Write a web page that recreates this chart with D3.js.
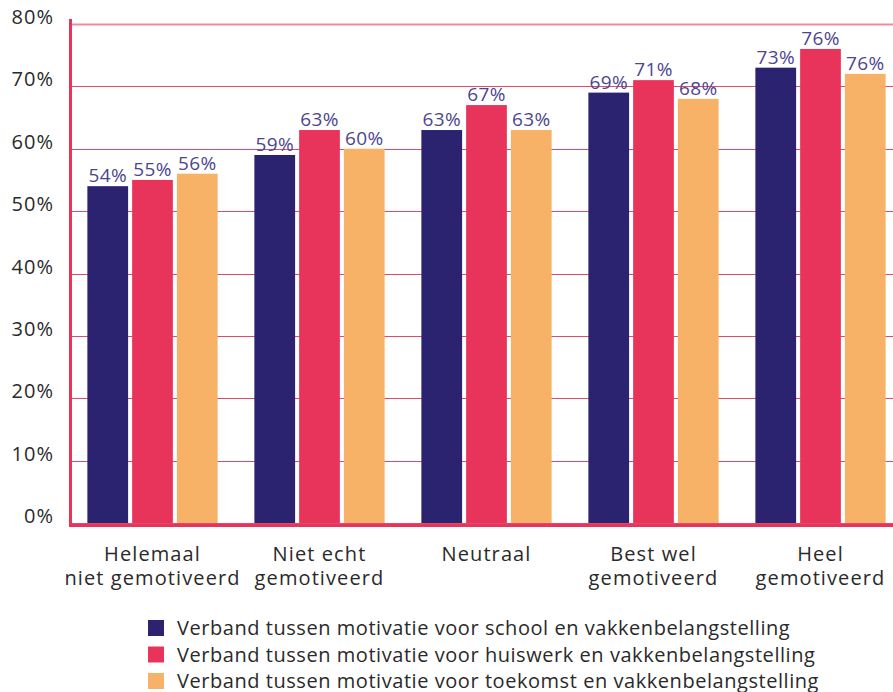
<!DOCTYPE html>
<html>
<head>
<meta charset="utf-8">
<script src="https://cdn.jsdelivr.net/npm/d3@7"></script>
<style>
  body { margin: 0; background: #fff; }
  text { font-family: "Open Sans", sans-serif; }
</style>
</head>
<body>
<svg></svg>
<script>
// categories and series
const categories = [
    ["Helemaal", "niet gemotiveerd"],
    ["Niet echt", "gemotiveerd"],
    ["Neutraal"],
    ["Best wel", "gemotiveerd"],
    ["Heel", "gemotiveerd"]
];
const seriesNames = [
    "Verband tussen motivatie voor school en vakkenbelangstelling",
    "Verband tussen motivatie voor huiswerk en vakkenbelangstelling",
    "Verband tussen motivatie voor toekomst en vakkenbelangstelling"
];
const school = [54, 59, 63, 69, 73];
const huiswerk = [55, 63, 67, 71, 76];
const toekomst = [56, 60, 63, 68, 72];
// labels as printed in the original (last orange label differs from its bar)
const schoolLabels = ["54%", "59%", "63%", "69%", "73%"];
const huiswerkLabels = ["55%", "63%", "67%", "71%", "76%"];
const toekomstLabels = ["56%", "60%", "63%", "68%", "76%"];
const yTicks = [0, 10, 20, 30, 40, 50, 60, 70, 80];

const colors = ["#2b2270", "#e8345a", "#f7b267"];

const width = 893;
const height = 692;

const svg = d3.select("svg")
    .attr("width", width)
    .attr("height", height);

const x = d3.scaleBand()
    .domain(d3.range(categories.length))
    .range([69, 904])
    .paddingInner(0.22)
    .paddingOuter(0.11);

const xSub = d3.scaleBand()
    .domain([0, 1, 2])
    .range([0, x.bandwidth()])
    .paddingInner(0.09);

const y = d3.scaleLinear()
    .domain([0, 80])
    .range([523, 24]);

// gridlines
svg.append("g")
    .selectAll("line")
    .data(yTicks)
    .enter().append("line")
    .attr("x1", 70)
    .attr("x2", width)
    .attr("y1", d => Math.round(y(d)) + 0.5)
    .attr("y2", d => Math.round(y(d)) + 0.5)
    .attr("stroke", d => d == 80 ? "#f08aa0" : "#e04a6c")
    .attr("stroke-width", d => d == 80 ? 2 : 1);

// y tick labels
svg.append("g")
    .selectAll("text")
    .data(yTicks)
    .enter().append("text")
    .attr("x", 54)
    .attr("y", d => y(d))
    .attr("text-anchor", "end")
    .attr("font-size", 20)
    .attr("letter-spacing", 1)
    .attr("fill", "#2a2a2a")
    .text(d => d + "%");

const series = [
    { values: school, labels: schoolLabels },
    { values: huiswerk, labels: huiswerkLabels },
    { values: toekomst, labels: toekomstLabels }
];

const groups = svg.append("g")
    .selectAll("g")
    .data(categories)
    .enter().append("g")
    .attr("transform", (d, i) => `translate(${x(i)},0)`);

series.forEach((s, si) => {
    groups.append("rect")
        .attr("x", xSub(si))
        .attr("width", xSub.bandwidth())
        .attr("y", (d, i) => y(s.values[i]))
        .attr("height", (d, i) => y(0) - y(s.values[i]))
        .attr("fill", colors[si]);

    groups.append("text")
        .attr("x", xSub(si) + xSub.bandwidth() / 2)
        .attr("y", (d, i) => y(s.values[i]) - 4)
        .attr("text-anchor", "middle")
        .attr("font-size", 19)
        .attr("letter-spacing", 0.3)
        .attr("fill", "#4b4690")
        .text((d, i) => s.labels[i]);
});

// axis lines
svg.append("line")
    .attr("x1", 70.5).attr("x2", 70.5)
    .attr("y1", 19).attr("y2", 527)
    .attr("stroke", "#e8345a")
    .attr("stroke-width", 3);

svg.append("line")
    .attr("x1", 69).attr("x2", width)
    .attr("y1", 525.5).attr("y2", 525.5)
    .attr("stroke", "#e8345a")
    .attr("stroke-width", 3);

// category labels, one text per line
const catGroups = svg.append("g")
    .selectAll("g")
    .data(categories)
    .enter().append("g")
    .attr("transform", (d, i) => `translate(${x(i) + x.bandwidth() / 2},0)`);

catGroups.selectAll("text")
    .data(d => d)
    .enter().append("text")
    .attr("x", 0)
    .attr("y", (d, i) => 561 + i * 24)
    .attr("text-anchor", "middle")
    .attr("font-size", 20)
    .attr("letter-spacing", 1.1)
    .attr("fill", "#2a2a2a")
    .text(d => d);

// legend
const legend = svg.append("g")
    .selectAll("g")
    .data(seriesNames)
    .enter().append("g")
    .attr("transform", (d, i) => `translate(148,${620 + i * 26.5})`);

legend.append("rect")
    .attr("width", 16)
    .attr("height", 16)
    .attr("fill", (d, i) => colors[i]);

legend.append("text")
    .attr("x", 29)
    .attr("y", 15)
    .attr("font-size", 20)
    .attr("letter-spacing", 0.55)
    .attr("fill", "#2a2a2a")
    .text(d => d);
</script>
</body>
</html>
